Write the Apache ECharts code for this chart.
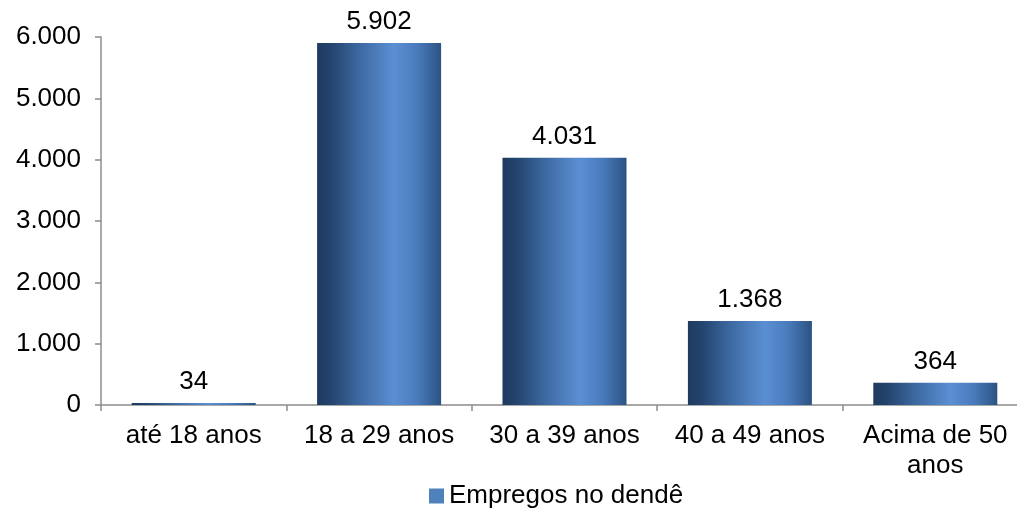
<!DOCTYPE html>
<html>
<head>
<meta charset="utf-8">
<script src="https://cdn.jsdelivr.net/npm/echarts@6/dist/echarts.min.js"></script>
<style>
  html, body { margin: 0; padding: 0; background: #fff; }
  #chart { width: 1017px; height: 515px; }
</style>
</head>
<body>
<div id="chart"></div>
<script>
// Faixas etárias e número de empregos no dendê
const categories = ['até 18 anos', '18 a 29 anos', '30 a 39 anos', '40 a 49 anos', 'Acima de 50\nanos'];
const empregos = [34, 5902, 4031, 1368, 364];
const seriesName = 'Empregos no dendê';

// pt-BR thousands separator
function fmt(v) {
  return String(v).replace(/\B(?=(\d{3})+(?!\d))/g, '.');
}

const font = '"Liberation Sans", Arial, sans-serif';
const fs = 26;

// Cylinder-like shading across each bar
const barFill = new echarts.graphic.LinearGradient(0, 0, 1, 0, [
  { offset: 0.0, color: '#1e3a5f' },
  { offset: 0.12, color: '#24456f' },
  { offset: 0.35, color: '#3e6aa3' },
  { offset: 0.62, color: '#5b8fd3' },
  { offset: 0.8, color: '#4a7cbd' },
  { offset: 0.92, color: '#38649c' },
  { offset: 1.0, color: '#2c5283' }
]);

const chart = echarts.init(document.getElementById('chart'), null, { renderer: 'canvas' });
chart.setOption({
  animation: false,
  backgroundColor: '#ffffff',
  // plot area runs slightly past the right edge of the canvas
  grid: { left: 101, width: 927, top: 37, bottom: 110, containLabel: false, outerBoundsMode: 'none' },
  legend: {
    bottom: 1,
    left: 424,
    itemWidth: 15,
    itemHeight: 15,
    itemGap: 5,
    icon: 'rect',
    textStyle: { fontFamily: font, fontSize: fs, color: '#000', padding: [0, 0, 0, 0] },
    data: [{ name: seriesName, itemStyle: { color: '#4f81bd' } }]
  },
  xAxis: {
    type: 'category',
    data: categories,
    axisLine: { lineStyle: { color: '#8c8c8c', width: 1.5 } },
    axisTick: { show: true, length: 6, alignWithLabel: false, lineStyle: { color: '#8c8c8c', width: 1.5 } },
    axisLabel: {
      interval: 0,
      margin: 16,
      fontFamily: font,
      fontSize: fs,
      color: '#000',
      lineHeight: 30
    },
    splitLine: { show: false }
  },
  yAxis: {
    type: 'value',
    min: 0,
    max: 6000,
    interval: 1000,
    axisLine: { show: true, lineStyle: { color: '#8c8c8c', width: 1.5 } },
    axisTick: { show: true, length: 6, lineStyle: { color: '#8c8c8c', width: 1.5 } },
    axisLabel: {
      margin: 20,
      fontFamily: font,
      fontSize: fs,
      color: '#000',
      formatter: v => fmt(v)
    },
    splitLine: { show: false }
  },
  series: [{
    name: seriesName,
    type: 'bar',
    data: empregos,
    barWidth: 124,
    itemStyle: { color: barFill },
    label: {
      show: true,
      position: 'top',
      distance: 8,
      fontFamily: font,
      fontSize: fs,
      color: '#000',
      formatter: p => fmt(p.value)
    }
  }]
});
</script>
</body>
</html>
